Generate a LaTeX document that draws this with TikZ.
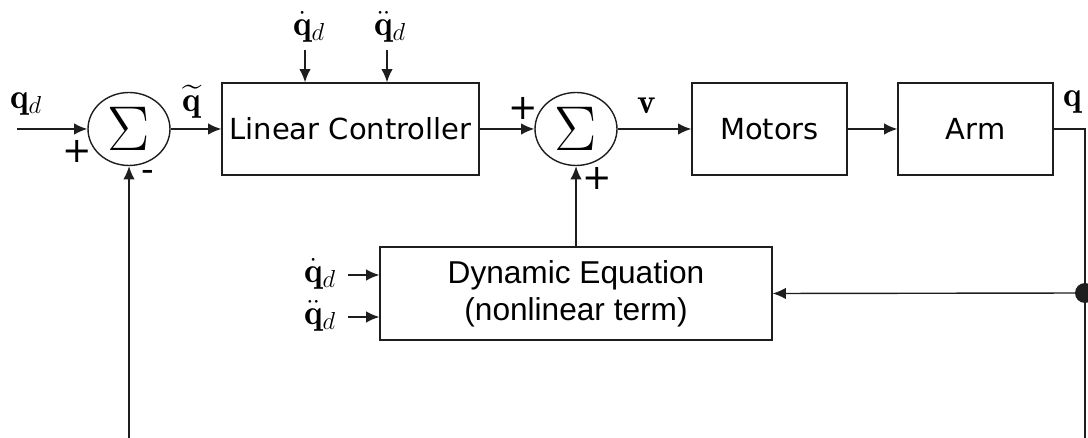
\RequirePackage{fix-cm}
\documentclass[tikz,border=0pt]{standalone}
\usepackage{amsmath,amssymb}
\usepackage{fontspec}
\usepackage{tikz}
\usetikzlibrary{arrows.meta,shapes.geometric}
\newfontfamily\blkfont{DejaVu Sans}
\newfontfamily\dynfont{Liberation Sans}
\definecolor{bdline}{RGB}{30,30,30}

\begin{document}
\begin{tikzpicture}[x=0.02cm, y=-0.02cm, line width=0.8pt, draw=bdline,
    >={Latex[length=7.5pt,width=6.5pt]},
    blk/.style={draw, rectangle, minimum height=1.84cm, inner sep=0pt,
      font=\blkfont\fontsize{16.5}{19}\selectfont},
    sumnode/.style={draw, ellipse, minimum width=1.64cm, minimum height=1.46cm,
      inner sep=0pt, font=\fontsize{36}{36}\selectfont},
    sig/.style={inner sep=0pt, font=\fontsize{20}{24}\selectfont},
    sgn/.style={inner sep=0pt, font=\blkfont\fontsize{20}{20}\selectfont}]
    \useasboundingbox (0,0) rectangle (1088,438);

    % blocks
    \node[sumnode] (sum1) at (129,129) {$\Sigma$};
    \node[blk, minimum width=5.14cm] (lin) at (350.5,129) {Linear Controller};
    \node[sumnode] (sum2) at (576,129) {$\Sigma$};
    \node[blk, minimum width=3.1cm] (mot) at (769.5,129) {Motors};
    \node[blk, minimum width=3.1cm] (arm) at (975.5,129) {Arm};
    \node[blk, minimum width=7.84cm, minimum height=1.86cm, align=center,
      font=\dynfont\fontsize{18}{21}\selectfont] (dyn) at (576,293.5)
      {Dynamic Equation\\(nonlinear term)};

    % signals
    \node[sig] (qd) at (26,104) {$\mathbf{q}_d$};
    \node[sig] (qt) at (192,102) {$\widetilde{\mathbf{q}}$};
    \node[sig] (v) at (647,106) {$\mathbf{v}$};
    \node[sig] (q) at (1073,102) {$\mathbf{q}$};
    \node[sig] (qdd1) at (309,27) {$\dot{\mathbf{q}}_d$};
    \node[sig] (qddd1) at (390,27) {$\ddot{\mathbf{q}}_d$};
    \node[sig] (qdd2) at (320,274) {$\dot{\mathbf{q}}_d$};
    \node[sig] (qddd2) at (320,316) {$\ddot{\mathbf{q}}_d$};

    % signs
    \node[sgn] (p1) at (77,151) {+};
    \node[sgn] (m1) at (148,176) {-};
    \node[sgn] (p2) at (523,108) {+};
    \node[sgn] (p3) at (597,178) {+};

    \coordinate (qin) at (17,129);
    \coordinate (top1) at (305,50);
    \coordinate (top2) at (387,50);
    \coordinate (left1) at (348,275);
    \coordinate (left2) at (348,317);
    \coordinate (qout) at (1085,129);
    \coordinate (tap) at (1085,293);
    \coordinate (fbend) at (1085,438);
    \coordinate (fbin) at (129,438);

    % forward path
    \draw[->] (qin) -- (sum1);
    \draw[->] (sum1) -- (lin);
    \draw[->] (lin) -- (sum2);
    \draw[->] (sum2) -- (mot);
    \draw[->] (mot) -- (arm);
    \draw (arm.east) -- (qout) -- (fbend);
    \draw[->] (top1) -- (top1 |- lin.north);
    \draw[->] (top2) -- (top2 |- lin.north);

    % nonlinear term
    \fill[bdline] (tap) circle (0.2cm);
    \draw[->] (tap) -- (dyn.east);
    \draw[->] (left1) -- (left1 -| dyn.west);
    \draw[->] (left2) -- (left2 -| dyn.west);
    \draw[->] (dyn.north) -- (sum2.south);

    % feedback
    \draw[->] (fbin) -- (sum1.south);
  \end{tikzpicture}
\end{document}
